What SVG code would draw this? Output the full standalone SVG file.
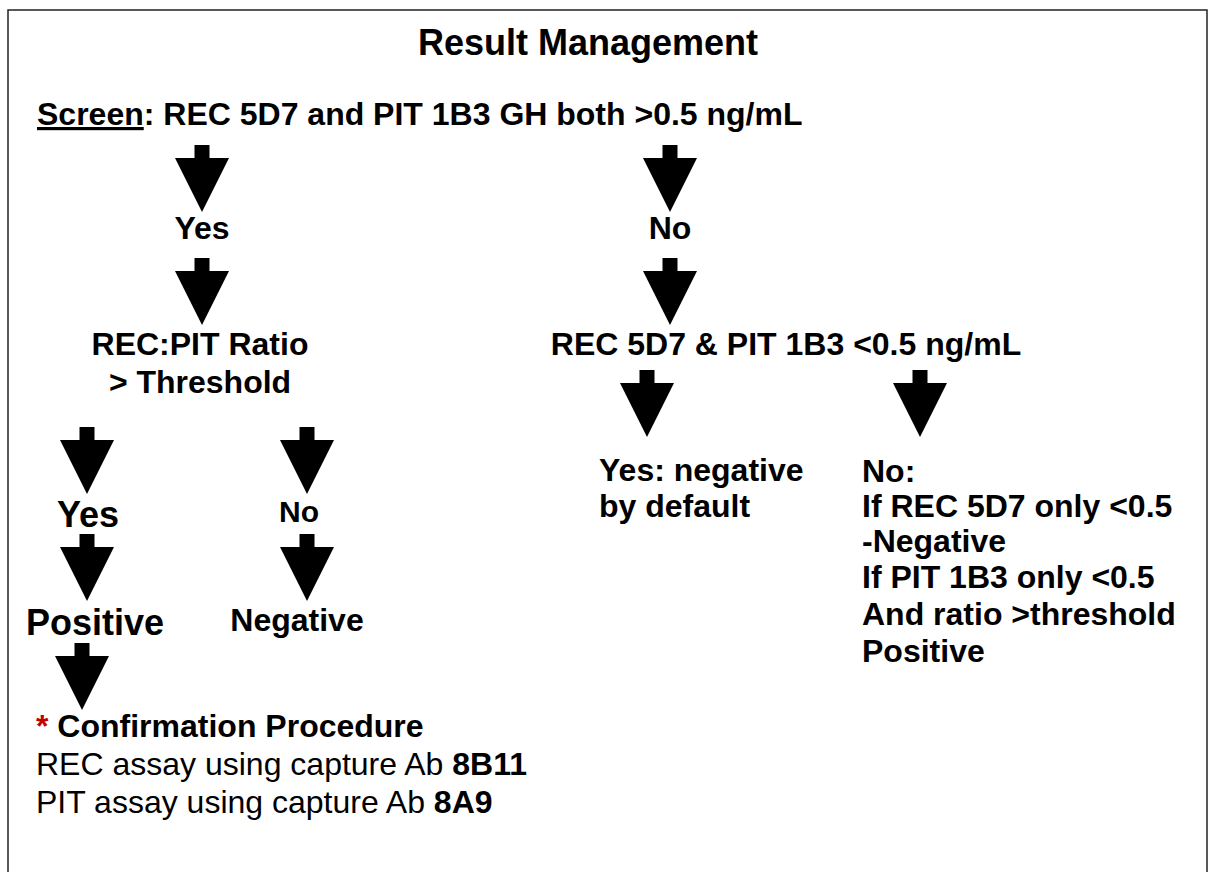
<svg xmlns="http://www.w3.org/2000/svg" xmlns:xlink="http://www.w3.org/1999/xlink" width="1208" height="872" viewBox="0 0 1208 872">
<style>
text{font-family:"Liberation Sans",Arial,sans-serif;fill:#000;}
.b{font-weight:bold;font-size:32px;}
.r{font-weight:normal;font-size:32px;}
.big{font-weight:bold;font-size:36px;}
.title{font-weight:bold;font-size:36px;}
.arrow{fill:#000;}
</style>
<defs>
<path id="arr" class="arrow" d="M-7.5,0 H7.5 V13 H27 L0,67 L-27,13 H-7.5 Z"/>
</defs>
<rect x="0" y="0" width="1208" height="872" fill="#fff"/>
<rect x="8" y="10" width="1199" height="880" fill="none" stroke="#222" stroke-width="1.5"/>
<g id="title"><text class="title" x="588" y="55" text-anchor="middle">Result Management</text></g>
<g id="screen"><text class="b" x="37" y="125"><tspan text-decoration="underline">Screen</tspan>: REC 5D7 and PIT 1B3 GH both &gt;0.5 ng/mL</text></g>
<g id="yes1"><text class="b" x="202" y="239" text-anchor="middle">Yes</text></g>
<g id="no1"><text class="b" x="670" y="239" text-anchor="middle">No</text></g>
<g id="ratio"><text class="b" x="200" y="355" text-anchor="middle">REC:PIT Ratio</text><text class="b" x="200" y="393" text-anchor="middle">&gt; Threshold</text></g>
<g id="both-low"><text class="b" x="786" y="355" text-anchor="middle">REC 5D7 &amp; PIT 1B3 &lt;0.5 ng/mL</text></g>
<g id="yes2"><text class="big" x="88" y="527" text-anchor="middle">Yes</text></g>
<g id="no2"><text class="b" x="299" y="522" text-anchor="middle" style="font-size:30px">No</text></g>
<g id="positive"><text class="big" x="95" y="635" text-anchor="middle">Positive</text></g>
<g id="negative"><text class="b" x="297" y="631" text-anchor="middle">Negative</text></g>
<g id="yes-neg"><text class="b" x="599" y="481">Yes: negative</text><text class="b" x="599" y="517">by default</text></g>
<g id="no-detail">
<text class="b" x="862" y="482">No:</text>
<text class="b" x="862" y="517">If REC 5D7 only &lt;0.5</text>
<text class="b" x="862" y="552">-Negative</text>
<text class="b" x="862" y="588">If PIT 1B3 only &lt;0.5</text>
<text class="b" x="862" y="625">And ratio &gt;threshold</text>
<text class="b" x="862" y="662">Positive</text>
</g>
<g id="confirmation">
<text class="b" x="36" y="737"><tspan style="fill:#c00000">*</tspan> Confirmation Procedure</text>
<text class="r" x="36" y="775">REC assay using capture Ab <tspan font-weight="bold">8B11</tspan></text>
<text class="r" x="36" y="813">PIT assay using capture Ab <tspan font-weight="bold">8A9</tspan></text>
</g>
<g id="connectors">
<use xlink:href="#arr" x="202" y="145"/>
<use xlink:href="#arr" x="670" y="145"/>
<use xlink:href="#arr" x="202" y="258"/>
<use xlink:href="#arr" x="670" y="258"/>
<use xlink:href="#arr" x="87" y="427"/>
<use xlink:href="#arr" x="307" y="427"/>
<use xlink:href="#arr" x="87" y="534"/>
<use xlink:href="#arr" x="307" y="534"/>
<use xlink:href="#arr" x="82" y="643"/>
<use xlink:href="#arr" x="647" y="370"/>
<use xlink:href="#arr" x="920" y="370"/>
</g>
</svg>
